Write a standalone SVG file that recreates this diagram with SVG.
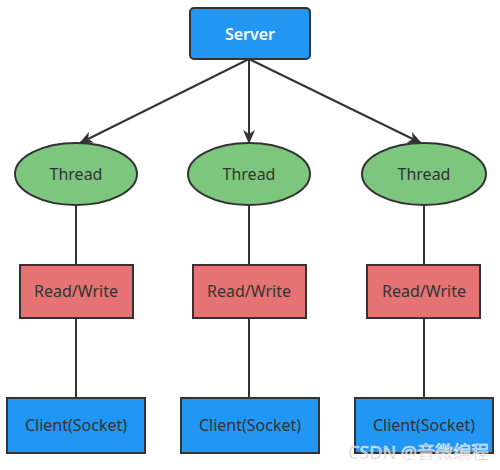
<svg xmlns="http://www.w3.org/2000/svg" width="500" height="470" viewBox="0 0 500 470">
<style>
text{font-family:"Noto Sans","Open Sans","Liberation Sans",sans-serif;font-size:16px;text-anchor:middle;dominant-baseline:central;fill:#333}
.blue{fill:#2196F3;stroke:#333;stroke-width:2}
.green{fill:#7DC67E;stroke:#333;stroke-width:2}
.red{fill:#E57373;stroke:#333;stroke-width:2}
.ln{stroke:#333;stroke-width:2;fill:none}
.wm{font-family:"Noto Sans","Noto Sans CJK SC",sans-serif;font-size:18px;fill:#bbb;stroke:#fff;stroke-width:0.6;opacity:0.85;text-anchor:start}
</style>
<defs>
<marker id="ah" markerWidth="14" markerHeight="12" refX="13" refY="6" orient="auto" markerUnits="userSpaceOnUse">
<path d="M0,0 L14,6 L0,12 L4,6 Z" fill="#333"/>
</marker>
</defs>
<rect width="500" height="470" fill="#fff"/>
<g id="connectors">
<line class="ln" x1="249" y1="59" x2="80" y2="143" marker-end="url(#ah)"/>
<line class="ln" x1="249" y1="59" x2="249" y2="143" marker-end="url(#ah)"/>
<line class="ln" x1="249" y1="59" x2="421" y2="143" marker-end="url(#ah)"/>
<line class="ln" x1="76" y1="205" x2="76" y2="265"/>
<line class="ln" x1="249" y1="205" x2="249" y2="265"/>
<line class="ln" x1="424" y1="205" x2="424" y2="265"/>
<line class="ln" x1="76" y1="318" x2="76" y2="398"/>
<line class="ln" x1="249" y1="318" x2="249" y2="398"/>
<line class="ln" x1="424" y1="318" x2="424" y2="398"/>
</g>
<g id="server">
<rect class="blue" x="190" y="8" width="120" height="51" rx="4"/>
<text x="250" y="34" style="fill:#fff;font-weight:600;font-size:16px">Server</text>
</g>
<g id="thread1"><ellipse class="green" cx="76" cy="174" rx="61" ry="31"/><text x="76" y="174">Thread</text></g>
<g id="thread2"><ellipse class="green" cx="249" cy="174" rx="61" ry="31"/><text x="249" y="174">Thread</text></g>
<g id="thread3"><ellipse class="green" cx="424" cy="174" rx="62" ry="31"/><text x="424" y="174">Thread</text></g>
<g id="rw1"><rect class="red" x="20" y="265" width="113" height="53"/><text x="76" y="291">Read/Write</text></g>
<g id="rw2"><rect class="red" x="193" y="265" width="113" height="53"/><text x="249" y="291">Read/Write</text></g>
<g id="rw3"><rect class="red" x="367" y="265" width="113" height="53"/><text x="424" y="291">Read/Write</text></g>
<g id="client1"><rect class="blue" x="7" y="398" width="138" height="55"/><text x="76" y="425">Client(Socket)</text></g>
<g id="client2"><rect class="blue" x="181" y="398" width="138" height="55"/><text x="250" y="425">Client(Socket)</text></g>
<g id="client3"><rect class="blue" x="355" y="398" width="138" height="55"/><text x="424" y="425">Client(Socket)</text></g>
<text class="wm" x="348" y="452">CSDN @音微编程</text>
</svg>
